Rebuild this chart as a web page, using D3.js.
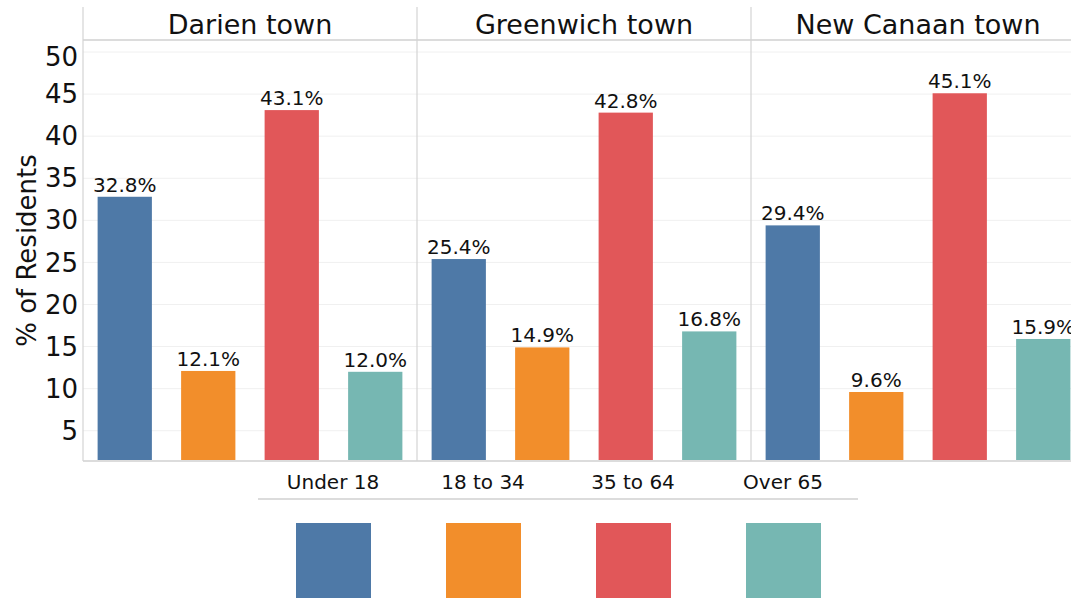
<!DOCTYPE html>
<html>
<head>
<meta charset="utf-8">
<script src="https://cdn.jsdelivr.net/npm/d3@7"></script>
<style>
  html, body { margin: 0; padding: 0; background: #fff; }
  svg { display: block; font-family: "DejaVu Sans", sans-serif; }
</style>
</head>
<body>
<svg id="chart" width="1071" height="598"></svg>
<script>
// ---- data ----
const towns = ["Darien town", "Greenwich town", "New Canaan town"];
const ageGroups = ["Under 18", "18 to 34", "35 to 64", "Over 65"];
const darienValues = [32.8, 12.1, 43.1, 12.0];
const greenwichValues = [25.4, 14.9, 42.8, 16.8];
const newCanaanValues = [29.4, 9.6, 45.1, 15.9];
const yTickValues = [5, 10, 15, 20, 25, 30, 35, 40, 45, 50];
const yLabel = "% of Residents";
const palette = ["#4e79a7", "#f28e2b", "#e15759", "#76b7b2"];

(function () {
const seriesByTown = [darienValues, greenwichValues, newCanaanValues];
const rows = [];
towns.forEach((t, i) => ageGroups.forEach((a, j) => rows.push({town: t, age: a, value: seriesByTown[i][j]})));

// ---- layout ----
const svg = d3.select("#chart");
const plotLeft = 83, panelW = 334, plotTop = 40, plotBottom = 461, frameTop = 7;

const xTown = d3.scaleBand().domain(towns).range([plotLeft, plotLeft + panelW * towns.length]).padding(0);
const xAge = d3.scaleBand().domain(ageGroups).range([0, panelW]).paddingInner(0.35).paddingOuter(0.175);
const y = d3.scaleLinear().domain([1.4, 51.43]).range([plotBottom, plotTop]);
const color = d3.scaleOrdinal().domain(ageGroups).range(palette);

// gridlines
svg.append("g").selectAll("line").data(yTickValues).join("line")
  .attr("x1", plotLeft).attr("x2", 1071)
  .attr("y1", d => y(d)).attr("y2", d => y(d))
  .attr("stroke", "#f0f0f0").attr("stroke-width", 1);

// y tick labels
const lastTick = yTickValues.length - 1;
svg.append("g").selectAll("text").data(yTickValues).join("text")
  .attr("x", plotLeft - 5)
  .attr("y", (d, i) => y(d) + (i === lastTick ? 5 : 0))
  .attr("dy", "0.35em")
  .attr("text-anchor", "end")
  .attr("font-size", 26)
  .attr("fill", "#111")
  .text(d => d);

// y title
svg.append("text")
  .attr("transform", `translate(36,${(plotTop + plotBottom) / 2}) rotate(-90)`)
  .attr("text-anchor", "middle")
  .attr("font-size", 26)
  .attr("fill", "#111")
  .text(yLabel);

// header line
svg.append("line").attr("x1", plotLeft).attr("x2", 1071).attr("y1", plotTop).attr("y2", plotTop)
  .attr("stroke", "#dcdcdc").attr("stroke-width", 2);
// bottom axis line
svg.append("line").attr("x1", plotLeft).attr("x2", 1071).attr("y1", plotBottom).attr("y2", plotBottom)
  .attr("stroke", "#dcdcdc").attr("stroke-width", 2);

// panels
const panel = svg.append("g").selectAll("g").data(towns).join("g")
  .attr("transform", d => `translate(${xTown(d)},0)`);

panel.append("line").attr("x1", 0).attr("x2", 0).attr("y1", frameTop).attr("y2", plotBottom)
  .attr("stroke", "#d4d4d4").attr("stroke-width", 1.2);

panel.append("text")
  .attr("x", panelW / 2).attr("y", 34)
  .attr("text-anchor", "middle")
  .attr("font-size", 27)
  .attr("fill", "#111")
  .text(d => d);

panel.selectAll("rect").data(t => rows.filter(r => r.town === t)).join("rect")
  .attr("x", d => xAge(d.age))
  .attr("width", xAge.bandwidth())
  .attr("y", d => y(d.value))
  .attr("height", d => plotBottom - 1 - y(d.value))
  .attr("fill", d => color(d.age));

panel.selectAll("text.val").data(t => rows.filter(r => r.town === t)).join("text")
  .attr("class", "val")
  .attr("x", d => xAge(d.age) + xAge.bandwidth() / 2)
  .attr("y", d => y(d.value) - 5)
  .attr("text-anchor", "middle")
  .attr("font-size", 20)
  .attr("fill", "#111")
  .text(d => d.value.toFixed(1) + "%");

// legend
const xLeg = d3.scaleBand().domain(ageGroups).range([258, 858]);
svg.append("line").attr("x1", 258).attr("x2", 858).attr("y1", 499).attr("y2", 499)
  .attr("stroke", "#dcdcdc").attr("stroke-width", 2);
const leg = svg.append("g").selectAll("g").data(ageGroups).join("g")
  .attr("transform", d => `translate(${xLeg(d) + xLeg.bandwidth() / 2},0)`);
leg.append("text").attr("x", 0).attr("y", 489)
  .attr("text-anchor", "middle").attr("font-size", 20).attr("fill", "#111")
  .text(d => d);
leg.append("rect").attr("x", -37).attr("y", 523).attr("width", 75).attr("height", 80)
  .attr("fill", d => color(d));
})();
</script>
</body>
</html>
